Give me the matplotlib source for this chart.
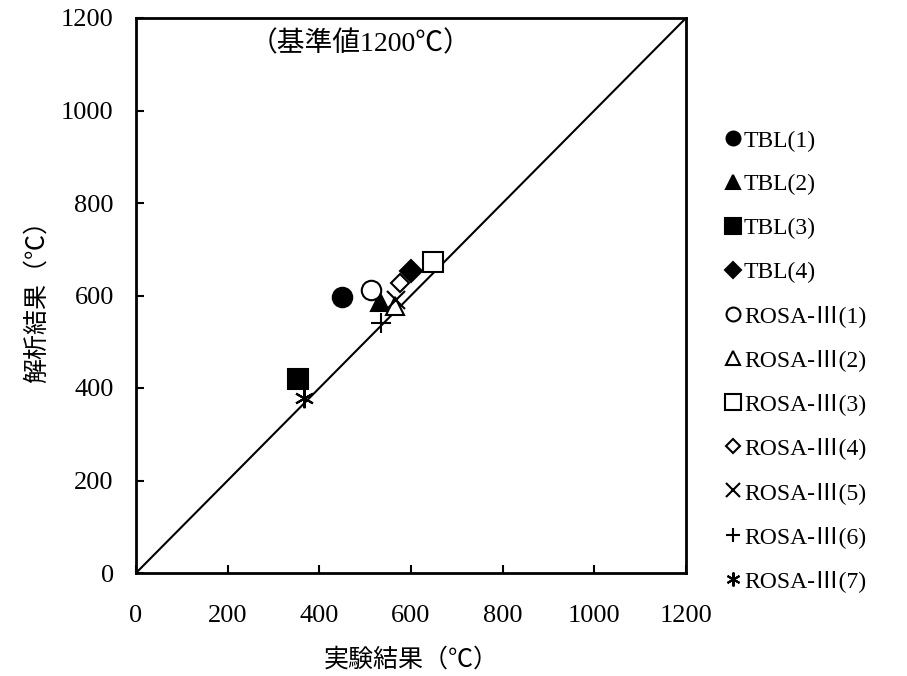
import matplotlib
matplotlib.use("Agg")
import matplotlib.pyplot as plt

labels = ["TBL(1)", "TBL(2)", "TBL(3)", "TBL(4)",
          "ROSA-Ⅲ(1)", "ROSA-Ⅲ(2)", "ROSA-Ⅲ(3)", "ROSA-Ⅲ(4)",
          "ROSA-Ⅲ(5)", "ROSA-Ⅲ(6)", "ROSA-Ⅲ(7)"]
exp_vals = [450, 533, 353, 601, 512, 565, 647, 575, 567, 534, 367]
calc_vals = [597, 585, 419, 653, 612, 578, 672, 626, 590, 540, 378]
markers = ["o", "^", "s", "D", "o", "^", "s", "D", "x", "+", (6, 2, 0)]
filled = [True, True, True, True, False, False, False, False, True, True, True]
sizes = [14, 13, 14, 11, 14, 13, 14, 9, 13, 14, 14]
ticks = [0, 200, 400, 600, 800, 1000, 1200]

serif = ["Liberation Serif", "Noto Sans CJK JP", "DejaVu Sans"]
sans = ["Noto Sans CJK JP", "DejaVu Sans"]
plt.rcParams['font.family'] = serif

fig = plt.figure(figsize=(9.07, 6.76), dpi=100)
ax = fig.add_axes([136/907, 103/676, 550/907, 555/676])

ax.plot([0, 1200], [0, 1200], color="black", lw=1.5, zorder=1)
for lab, xv, yv, m, f, s in zip(labels, exp_vals, calc_vals, markers, filled, sizes):
    ax.plot([xv], [yv], linestyle="none", marker=m, markersize=s,
            markerfacecolor="black" if f else "white",
            markeredgecolor="black", markeredgewidth=1.5, label=lab, zorder=3)

ax.set_xlim(0, 1200)
ax.set_ylim(0, 1200)
ax.set_xticks(ticks)
ax.set_yticks(ticks)
ax.tick_params(direction="in", length=6, width=1.5, labelsize=19)
ax.tick_params(axis="x", pad=23)
ax.tick_params(axis="y", pad=16)
for sp in ax.spines.values():
    sp.set_linewidth(2)

ax.set_xlabel("実験結果（℃）", family=sans, fontsize=18, labelpad=14)
ax.set_ylabel("解析結果（℃）", family=sans, fontsize=18, labelpad=8)
ax.text(490, 1172, "（基準値1200℃）", fontsize=20, ha="center", va="top", family=serif)

leg = ax.legend(loc="upper left", bbox_to_anchor=(1.056, 0.815), frameon=False,
                fontsize=17, handlelength=0.55, handletextpad=0.2,
                labelspacing=0.94, borderaxespad=0)
leg_sizes = [10, 10, 11, 8, 10, 10, 11, 7, 10, 10, 10]
for h, s in zip(leg.legend_handles, leg_sizes):
    h.set_markersize(s)

fig.savefig("out.png", dpi=100)
